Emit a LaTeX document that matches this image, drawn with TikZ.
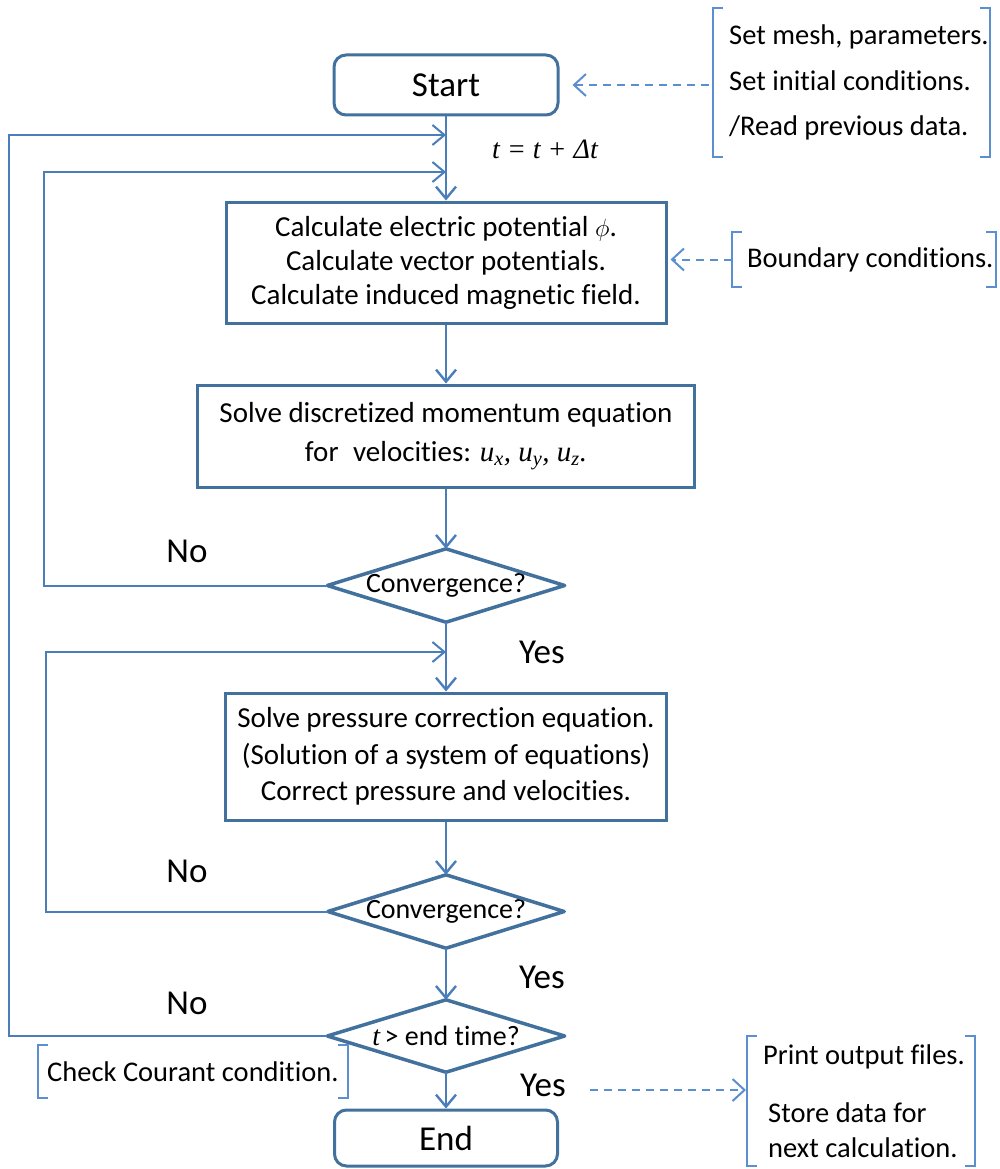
\documentclass[tikz,border=0pt]{standalone}
\usepackage{fontspec}
\setmainfont{Carlito}[Ligatures={NoCommon}]
\newfontfamily\tms{Liberation Serif}
\usetikzlibrary{arrows.meta}

\definecolor{boxline}{HTML}{41719C}
\definecolor{flowc}{HTML}{4A7EBB}
\definecolor{notec}{HTML}{5B8FD0}

\tikzset{
  every node/.style={inner sep=0pt, font=\fontsize{29}{34}\selectfont},
  procbox/.style={draw=boxline, line width=3pt, align=center},
  terminal/.style={draw=boxline, line width=3pt, rounded corners=12pt,
    font=\fontsize{35}{42}\selectfont},
  decision/.style={font=\fontsize{28}{32}\selectfont},
  diamondline/.style={draw=boxline, line width=3.5pt, line join=round},
  flow/.style={draw=flowc, line width=2.4pt,
    -{Straight Barb[length=12pt,width=20pt]}},
  loopline/.style={flow, line width=2pt},
  notetext/.style={align=left, anchor=west},
  brk/.style={draw=notec, line width=2pt},
  dasharr/.style={draw=notec, line width=2pt, dash pattern=on 8pt off 6pt,
    -{Straight Barb[length=12pt,width=22pt]}},
  answer/.style={font=\fontsize{35}{42}\selectfont},
}

% square brackets at x positions #2 and #3, as tall as note node #1
\newcommand\notebrackets[3]{%
  \draw[brk] ({#2+10},0 |- #1.north) -- (#2,0 |- #1.north)
    -- (#2,0 |- #1.south) -- ({#2+10},0 |- #1.south);
  \draw[brk] ({#3-10},0 |- #1.north) -- (#3,0 |- #1.north)
    -- (#3,0 |- #1.south) -- ({#3-10},0 |- #1.south);
}
% diamond outline drawn on the anchors of a decision node
\newcommand\decisionoutline[1]{%
  \draw[diamondline] (#1.west) -- (#1.north) -- (#1.east) -- (#1.south) -- cycle;
}

\begin{document}
\begin{tikzpicture}[x=1pt,y=-1pt]
\useasboundingbox (0,0) rectangle (999,1169);

% main column
\node[terminal, minimum width=224pt, minimum height=60pt] (start) at (446,85) {Start};

\node[procbox, minimum width=440pt, minimum height=121pt] (box1) at (446,262.5)
  {Calculate electric potential $\phi$.\\
   Calculate vector potentials.\\
   Calculate induced magnetic field.};

\node[procbox, minimum width=497pt, minimum height=102pt,
      font=\fontsize{29}{39}\selectfont] (box2) at (446,436)
  {Solve discretized momentum equation\\
   for\enspace velocities: {\tms\itshape u\textsubscript{x}, u\textsubscript{y}, u\textsubscript{z}.}};

\node[decision, minimum width=237pt, minimum height=73pt] (d1) at (446,585.5) {Convergence?};
\decisionoutline{d1}

\node[procbox, minimum width=441pt, minimum height=127pt,
      font=\fontsize{29}{36.5}\selectfont] (box3) at (446,756.5)
  {Solve pressure correction equation.\\
   (Solution of a system of equations)\\
   Correct pressure and velocities.};

\node[decision, minimum width=236pt, minimum height=73pt] (d2) at (446,911.5) {Convergence?};
\decisionoutline{d2}

\node[decision, minimum width=237pt, minimum height=72pt] (d3) at (446,1036)
  {{\tms\itshape t\,}> end time?};
\decisionoutline{d3}

\node[terminal, minimum width=223pt, minimum height=56pt] (end) at (446,1138) {End};

% time step label
\node[font=\fontsize{28}{30}\selectfont\tms\itshape] (tstep) at (545,149) {t = t + Δt};

% branch labels
\node[answer] (no1) at (187,551) {No};
\node[answer] (yes1) at (542,652) {Yes};
\node[answer] (no2) at (187,871) {No};
\node[answer] (yes2) at (542,977) {Yes};
\node[answer] (no3) at (187,1003) {No};
\node[answer] (yes3) at (543,1085) {Yes};

% entry points of the loops on the main column
\coordinate (in0) at (446,135);
\coordinate (in1) at (446,172);
\coordinate (in2) at (446,652);

% downward flow
\draw[flow] (start.south) -- (box1.north);
\draw[flow] (box1.south) -- (box2.north);
\draw[flow] (box2.south) -- (d1.north);
\draw[flow] (d1.south) -- (box3.north);
\draw[flow] (box3.south) -- (d2.north);
\draw[flow] (d2.south) -- (d3.north);
\draw[flow] (d3.south) -- (end.north);

% feedback loops
\draw[loopline] (d3.west) -- (9,1036) |- (in0);
\draw[loopline] (d1.west) -- (44,585.5) |- (in1);
\draw[loopline] (d2.west) -- (46,911.5) |- (in2);

% notes in brackets
\node[notetext, minimum height=149pt, font=\fontsize{28.5}{45.5}\selectfont] (init) at (729,82.5)
  {Set mesh, parameters.\\Set initial conditions.\\/Read previous data.};
\notebrackets{init}{713}{990}

\node[notetext, minimum height=55pt, font=\fontsize{28.5}{34}\selectfont] (bc) at (747,259.5)
  {Boundary conditions.};
\notebrackets{bc}{732}{996}

\node[notetext, minimum height=53pt, font=\fontsize{28.5}{34}\selectfont] (cfl) at (47,1071.5)
  {Check Courant condition.};
\notebrackets{cfl}{38}{348}

\node[notetext, minimum height=130pt, font=\fontsize{28.5}{35}\selectfont] (out) at (763,1101)
  {Print output files.\\[23pt]
   \hspace*{5pt}Store data for\\
   \hspace*{5pt}next calculation.};
\notebrackets{out}{747}{975}

% dashed links to the notes
\coordinate (outlink) at ([xshift=24pt,yshift=-5pt]yes3.east);
\draw[dasharr, shorten <=20pt, shorten >=13pt] (init.west |- start.east) -- (start.east);
\draw[dasharr, shorten <=15pt, shorten >=3pt] (bc.west) -- (box1.east |- bc.west);
\draw[dasharr, shorten >=17pt] (outlink) -- (out.west |- outlink);
\end{tikzpicture}
\end{document}
